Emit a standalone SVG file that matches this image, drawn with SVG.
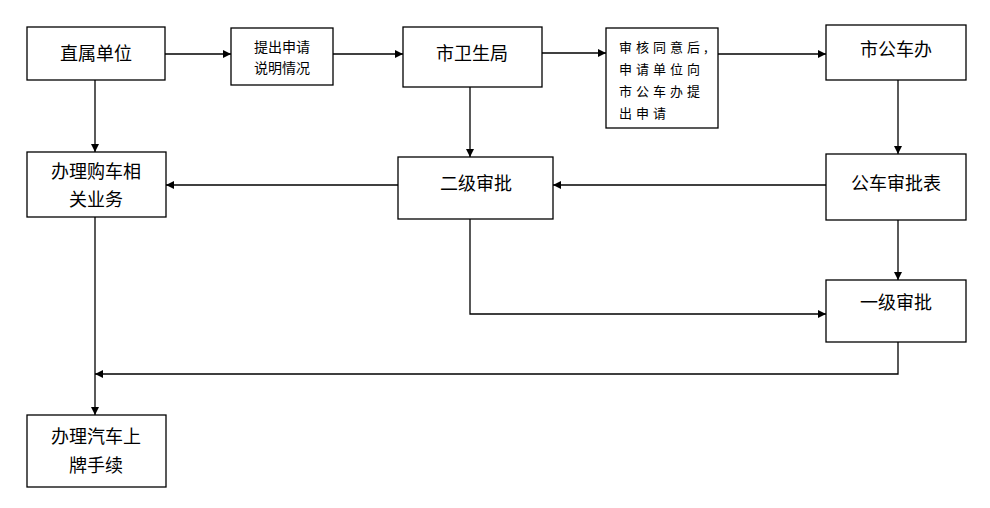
<svg xmlns="http://www.w3.org/2000/svg" width="990" height="508" viewBox="0 0 990 508">
<style>
rect{fill:#fff;stroke:#000;stroke-width:1.3}
text{font-family:"Noto Sans CJK SC","Liberation Sans",sans-serif;fill:#000;text-anchor:middle}
.b{font-size:18px}.s{font-size:14px}.t{font-size:13px;text-anchor:start;letter-spacing:4px}
.c path{fill:none;stroke:#000;stroke-width:1.3}
</style>
<defs><marker id="a" viewBox="0 0 10 10" refX="10" refY="5" markerWidth="8" markerHeight="8" orient="auto" markerUnits="userSpaceOnUse"><path d="M0,0L10,5L0,10z" fill="#000"/></marker></defs>
<rect x="0" y="0" width="990" height="508" style="stroke:none"/>
<g class="c">
<path d="M165,54H231" marker-end="url(#a)"/>
<path d="M333,54H403" marker-end="url(#a)"/>
<path d="M542,53H606" marker-end="url(#a)"/>
<path d="M718,54H826" marker-end="url(#a)"/>
<path d="M95,80V152" marker-end="url(#a)"/>
<path d="M470,87V157" marker-end="url(#a)"/>
<path d="M898,80V154" marker-end="url(#a)"/>
<path d="M826,185H553" marker-end="url(#a)"/>
<path d="M398,185H166" marker-end="url(#a)"/>
<path d="M898,220V280" marker-end="url(#a)"/>
<path d="M470,219V314H826" marker-end="url(#a)"/>
<path d="M898,342V374H95" marker-end="url(#a)"/>
<path d="M95,217V415" marker-end="url(#a)"/>
</g>
<g id="n1"><rect x="27" y="27" width="138" height="53"/><text class="b" x="96" y="60">直属单位</text></g>
<g id="n2"><rect x="231" y="28" width="102" height="57"/><text class="s" x="282" y="52">提出申请</text><text class="s" x="282" y="73">说明情况</text></g>
<g id="n3"><rect x="403" y="27" width="139" height="60"/><text class="b" x="472" y="60">市卫生局</text></g>
<g id="n4"><rect x="606" y="28" width="112" height="100"/><text class="t" x="619" y="52">审核同意后,</text><text class="t" x="619" y="74">申请单位向</text><text class="t" x="619" y="96">市公车办提</text><text class="t" x="619" y="118">出申请</text></g>
<g id="n5"><rect x="826" y="25" width="140" height="55"/><text class="b" x="896" y="56">市公车办</text></g>
<g id="n6"><rect x="27" y="152" width="139" height="65"/><text class="b" x="96" y="178">办理购车相</text><text class="b" x="96" y="206">关业务</text></g>
<g id="n7"><rect x="398" y="157" width="155" height="62"/><text class="b" x="476" y="190">二级审批</text></g>
<g id="n8"><rect x="826" y="154" width="140" height="66"/><text class="b" x="896" y="190">公车审批表</text></g>
<g id="n9"><rect x="826" y="280" width="140" height="62"/><text class="b" x="896" y="309">一级审批</text></g>
<g id="n10"><rect x="27" y="415" width="139" height="72"/><text class="b" x="96" y="443">办理汽车上</text><text class="b" x="96" y="472">牌手续</text></g>
</svg>
